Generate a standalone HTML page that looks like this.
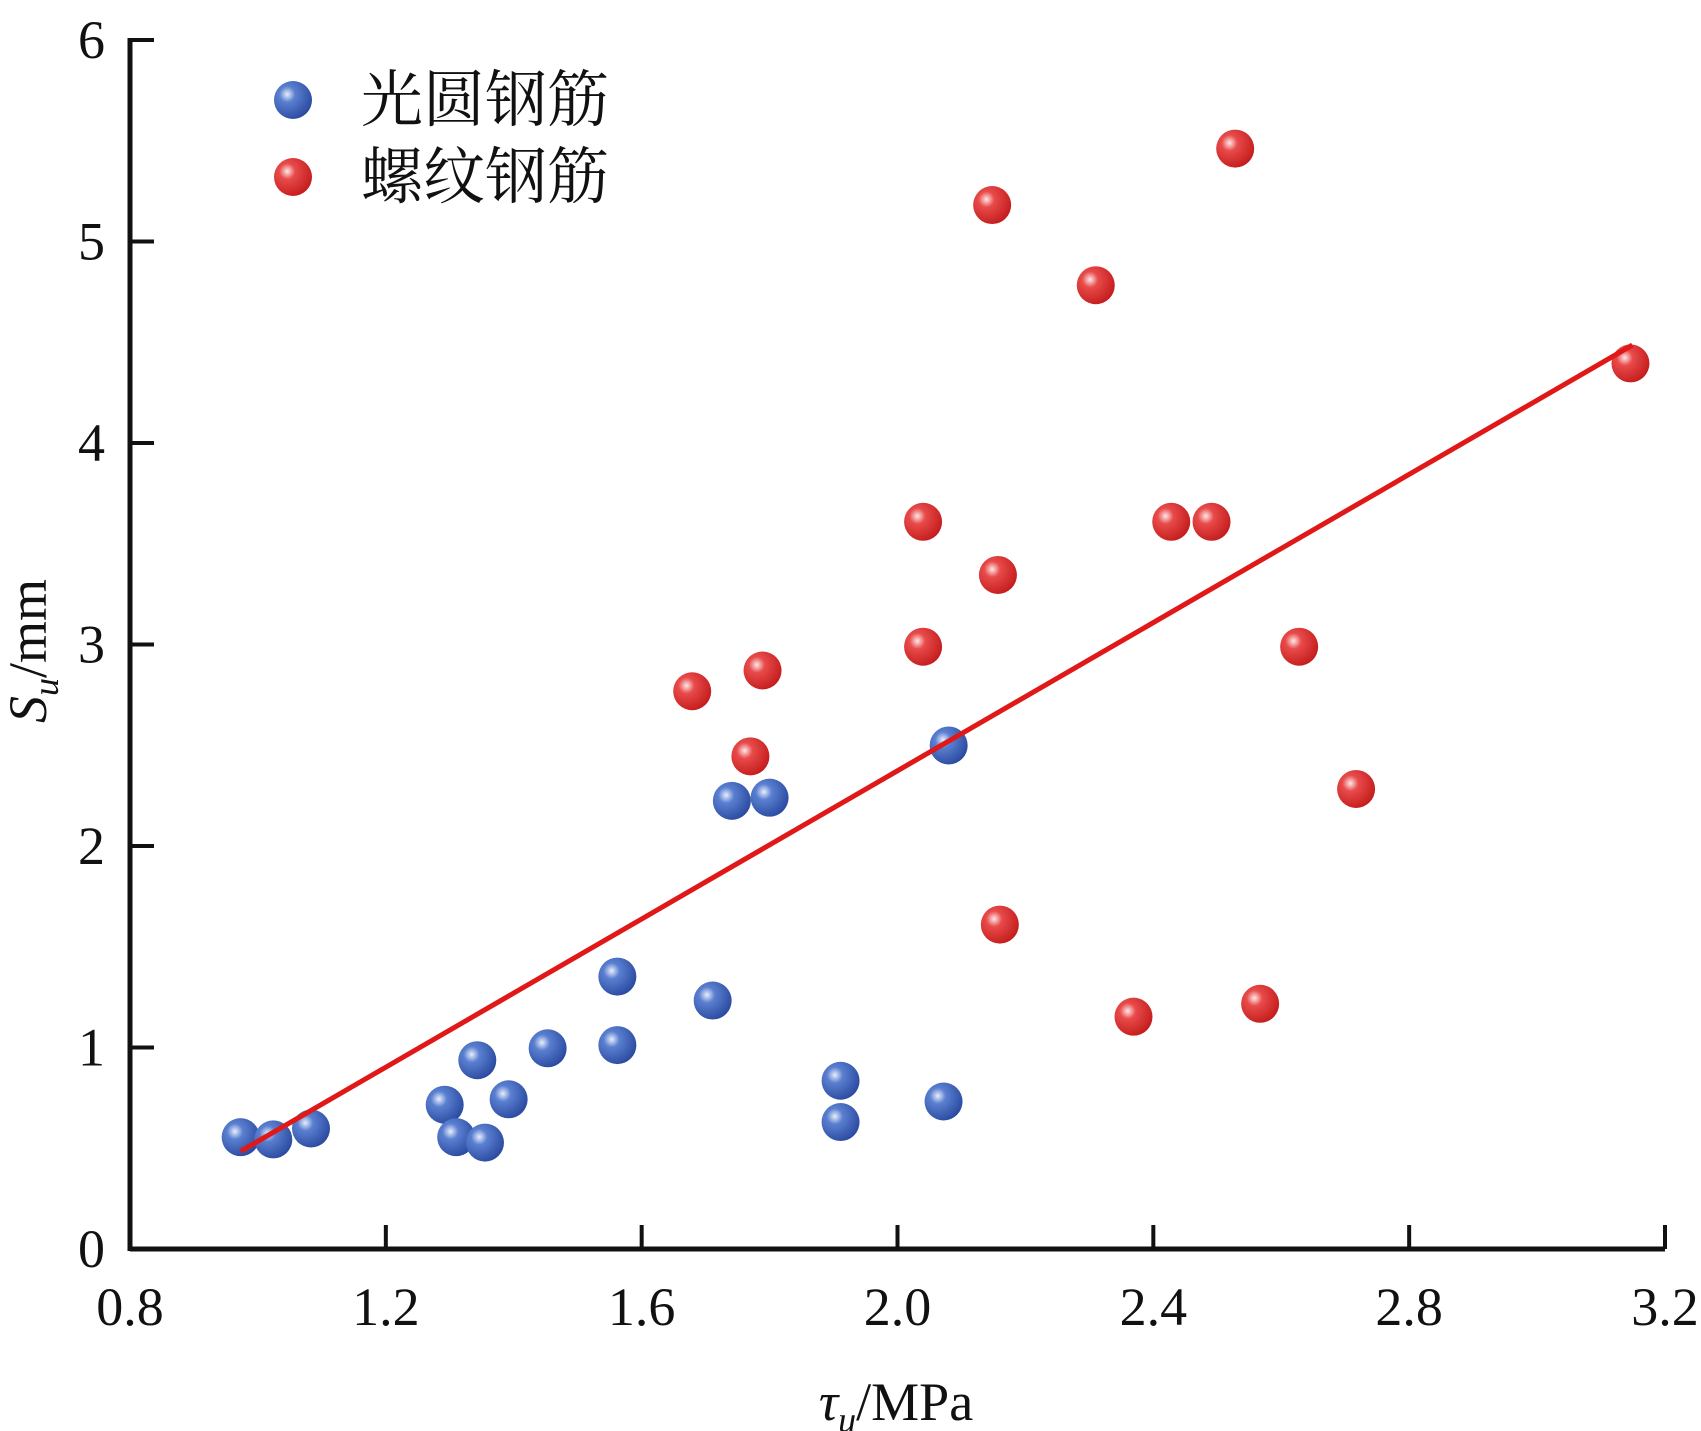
<!DOCTYPE html>
<html><head><meta charset="utf-8"><style>
html,body{margin:0;padding:0;background:#fff}
svg{display:block}
text{font-family:"Liberation Serif","Noto Serif CJK SC",serif;fill:#111}
</style></head><body>
<svg id="chart" width="1701" height="1431" viewBox="0 0 1701 1431">
<defs>
<radialGradient id="gb" cx="0.35" cy="0.35" r="0.7"><stop offset="0" stop-color="#e8eefc"/><stop offset="0.3" stop-color="#5a7fd0"/><stop offset="1" stop-color="#2a4aa0"/></radialGradient>
<radialGradient id="gr" cx="0.35" cy="0.35" r="0.7"><stop offset="0" stop-color="#fde8e8"/><stop offset="0.3" stop-color="#e84a4a"/><stop offset="1" stop-color="#c41c1c"/></radialGradient>
</defs>
<g id="axes"></g>
<g id="marks"></g>
<g>
<circle cx="293" cy="100" r="19" fill="url(#gb)"/>
<text x="361" y="121" font-size="62" font-family="'Noto Sans CJK SC',sans-serif">光圆钢筋</text>
<circle cx="293" cy="177" r="19" fill="url(#gr)"/>
<text x="361" y="198" font-size="62" font-family="'Noto Sans CJK SC',sans-serif">螺纹钢筋</text>
</g>
<text x="896" y="1420" font-size="54" text-anchor="middle"><tspan font-style="italic">τ</tspan><tspan font-style="italic" font-size="36" dy="12">u</tspan><tspan dy="-12">/MPa</tspan></text>
<text transform="translate(46,651) rotate(-90)" font-size="54" text-anchor="middle"><tspan font-style="italic">S</tspan><tspan font-style="italic" font-size="36" dy="12">u</tspan><tspan dy="-12">/mm</tspan></text>
</svg>
<script>
const xTicks=[0.8,1.2,1.6,2.0,2.4,2.8,3.2];
const xTickLabels=["0.8","1.2","1.6","2.0","2.4","2.8","3.2"];
const yTicks=[0,1,2,3,4,5,6];
const yTickLabels=["0","1","2","3","4","5","6"];
const plainX=[0.973,1.024,1.083,1.292,1.31,1.355,1.343,1.392,1.453,1.562,1.562,1.711,1.741,1.8,1.911,1.911,2.072,2.08];
const plainY=[0.555,0.544,0.598,0.716,0.555,0.528,0.937,0.743,0.996,1.012,1.352,1.233,2.224,2.24,0.835,0.63,0.732,2.499];
const ribbedX=[1.679,1.789,1.770,2.040,2.040,2.148,2.157,2.160,2.310,2.369,2.428,2.491,2.528,2.567,2.628,2.717,3.146];
const ribbedY=[2.768,2.871,2.445,3.609,2.989,5.181,3.345,1.61,4.783,1.153,3.609,3.609,5.461,1.217,2.989,2.283,4.395];
const fitX=[0.973,3.149];
const fitY=[0.485,4.486];
const NS="http://www.w3.org/2000/svg";
const X0=130,X1=1665,Y0=1249,Y1=40;
function sx(v){return X0+(v-0.8)/(3.2-0.8)*(X1-X0);}
function sy(v){return Y0-(v-0)/(6-0)*(Y0-Y1);}
function mk(t,a,p){const e=document.createElementNS(NS,t);for(const k in a)e.setAttribute(k,a[k]);p.appendChild(e);return e;}
const axes=document.getElementById('axes'),marks=document.getElementById('marks');
let e=mk('line',{x1:X0,y1:Y0,x2:X1,y2:Y0,stroke:'#111','stroke-width':5},axes);


e=mk('line',{x1:X0,y1:Y0+2,x2:X0,y2:Y1-2,stroke:'#111','stroke-width':5},axes);


xTicks.forEach((v,i)=>{
  if(i>0){const t=mk('line',{x1:sx(v),y1:Y0,x2:sx(v),y2:Y0-24,stroke:'#111','stroke-width':4},axes);
  
  }
  const l=mk('text',{x:sx(v),y:1325,'font-size':54,'text-anchor':'middle'},axes);l.textContent=xTickLabels[i];
  
  
});
yTicks.forEach((v,i)=>{
  if(i>0){const t=mk('line',{x1:X0,y1:sy(v),x2:X0+24,y2:sy(v),stroke:'#111','stroke-width':4},axes);
  
  }
  const l=mk('text',{x:105,y:sy(v)+18,'font-size':54,'text-anchor':'end'},axes);l.textContent=yTickLabels[i];
  
  
});
plainX.forEach((v,i)=>{const c=mk('circle',{cx:sx(v),cy:sy(plainY[i]),r:19,fill:'url(#gb)'},marks);
  
  });
ribbedX.forEach((v,i)=>{const c=mk('circle',{cx:sx(v),cy:sy(ribbedY[i]),r:19,fill:'url(#gr)'},marks);
  
  });
const fl=mk('line',{x1:sx(fitX[0]),y1:sy(fitY[0]),x2:sx(fitX[1]),y2:sy(fitY[1]),stroke:'#e01818','stroke-width':5},marks);


</script>
</body></html>
